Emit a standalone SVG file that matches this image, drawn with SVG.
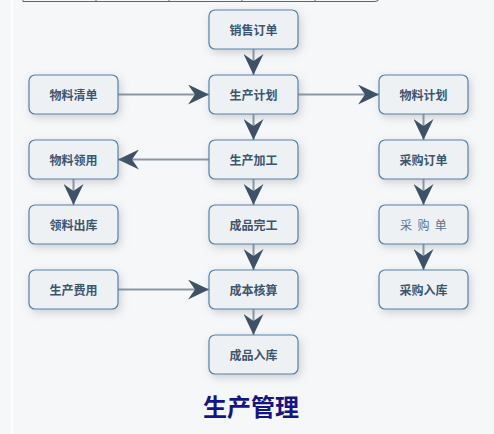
<svg xmlns="http://www.w3.org/2000/svg" width="494" height="434" viewBox="0 0 494 434">
<defs>
<filter id="sh" x="-30%" y="-40%" width="160%" height="200%">
<feDropShadow dx="2" dy="3" stdDeviation="4" flood-color="#7a828c" flood-opacity="0.35"/>
</filter>
<marker id="ah" markerUnits="userSpaceOnUse" viewBox="0 0 21 20" markerWidth="21" markerHeight="20" refX="21" refY="10" orient="auto">
<path d="M0,0 L21,10 L0,20 L7,10 Z" fill="#3e5166"/>
</marker>
<style>
.box{fill:#eef1f4;stroke:#5681a8;stroke-width:1.2;filter:url(#sh)}
.lbl{font-family:"Noto Sans CJK SC","Noto Sans",sans-serif;font-size:12px;font-weight:bold;fill:#3b5670;text-anchor:middle;dominant-baseline:central}
.lt{font-weight:normal;fill:#557494}
.edge{stroke:#8c97a3;stroke-width:2;fill:none;marker-end:url(#ah)}
</style>
</defs>
<rect x="0" y="0" width="494" height="434" fill="#f6f7f9"/>
<line x1="12" y1="0" x2="12" y2="434" stroke="#ffffff" stroke-width="1.5"/>
<g id="table-edge" fill="none" stroke="#5c6670" stroke-width="1">
<path d="M23,-4 L23,1.5 L375,1.5 Q379,1.5 379,-2"/>
<line x1="96" y1="-2" x2="96" y2="1.5"/>
<line x1="169" y1="-2" x2="169" y2="1.5"/>
<line x1="242" y1="-2" x2="242" y2="1.5"/>
<line x1="315" y1="-2" x2="315" y2="1.5"/>
</g>
<g id="connectors">
<line class="edge" x1="253.5" y1="49" x2="253.5" y2="75"/>
<line class="edge" x1="118" y1="94.5" x2="209" y2="94.5"/>
<line class="edge" x1="298" y1="94.5" x2="379" y2="94.5"/>
<line class="edge" x1="253.5" y1="114" x2="253.5" y2="140"/>
<line class="edge" x1="209" y1="159.5" x2="118" y2="159.5"/>
<line class="edge" x1="423.5" y1="114" x2="423.5" y2="140"/>
<line class="edge" x1="73.5" y1="179" x2="73.5" y2="205"/>
<line class="edge" x1="253.5" y1="179" x2="253.5" y2="205"/>
<line class="edge" x1="423.5" y1="179" x2="423.5" y2="205"/>
<line class="edge" x1="253.5" y1="244" x2="253.5" y2="270"/>
<line class="edge" x1="423.5" y1="244" x2="423.5" y2="270"/>
<line class="edge" x1="118" y1="289.5" x2="209" y2="289.5"/>
<line class="edge" x1="253.5" y1="309" x2="253.5" y2="335"/>
</g>
<g id="n-xsdd"><rect class="box" x="209" y="10" width="89" height="39" rx="6"/><text class="lbl" x="253.5" y="29.5">销售订单</text></g>
<g id="n-wlqd"><rect class="box" x="29" y="75" width="89" height="39" rx="6"/><text class="lbl" x="73.5" y="94.5">物料清单</text></g>
<g id="n-scjh"><rect class="box" x="209" y="75" width="89" height="39" rx="6"/><text class="lbl" x="253.5" y="94.5">生产计划</text></g>
<g id="n-wljh"><rect class="box" x="379" y="75" width="89" height="39" rx="6"/><text class="lbl" x="423.5" y="94.5">物料计划</text></g>
<g id="n-wlly"><rect class="box" x="29" y="140" width="89" height="39" rx="6"/><text class="lbl" x="73.5" y="159.5">物料领用</text></g>
<g id="n-scjg"><rect class="box" x="209" y="140" width="89" height="39" rx="6"/><text class="lbl" x="253.5" y="159.5">生产加工</text></g>
<g id="n-cgdd"><rect class="box" x="379" y="140" width="89" height="39" rx="6"/><text class="lbl" x="423.5" y="159.5">采购订单</text></g>
<g id="n-llck"><rect class="box" x="29" y="205" width="89" height="39" rx="6"/><text class="lbl" x="73.5" y="224.5">领料出库</text></g>
<g id="n-cpwg"><rect class="box" x="209" y="205" width="89" height="39" rx="6"/><text class="lbl" x="253.5" y="224.5">成品完工</text></g>
<g id="n-cgd"><rect class="box" x="379" y="205" width="89" height="39" rx="6"/><text class="lbl lt" x="423.5" y="224.5" xml:space="preserve">采  购  单</text></g>
<g id="n-scfy"><rect class="box" x="29" y="270" width="89" height="39" rx="6"/><text class="lbl" x="73.5" y="289.5">生产费用</text></g>
<g id="n-cbhs"><rect class="box" x="209" y="270" width="89" height="39" rx="6"/><text class="lbl" x="253.5" y="289.5">成本核算</text></g>
<g id="n-cgrk"><rect class="box" x="379" y="270" width="89" height="39" rx="6"/><text class="lbl" x="423.5" y="289.5">采购入库</text></g>
<g id="n-cprk"><rect class="box" x="209" y="335" width="89" height="39" rx="6"/><text class="lbl" x="253.5" y="354.5">成品入库</text></g>
<text x="251" y="416" font-family="'Noto Sans CJK SC','Noto Sans',sans-serif" font-size="24" font-weight="bold" fill="#14148a" text-anchor="middle">生产管理</text>
</svg>
